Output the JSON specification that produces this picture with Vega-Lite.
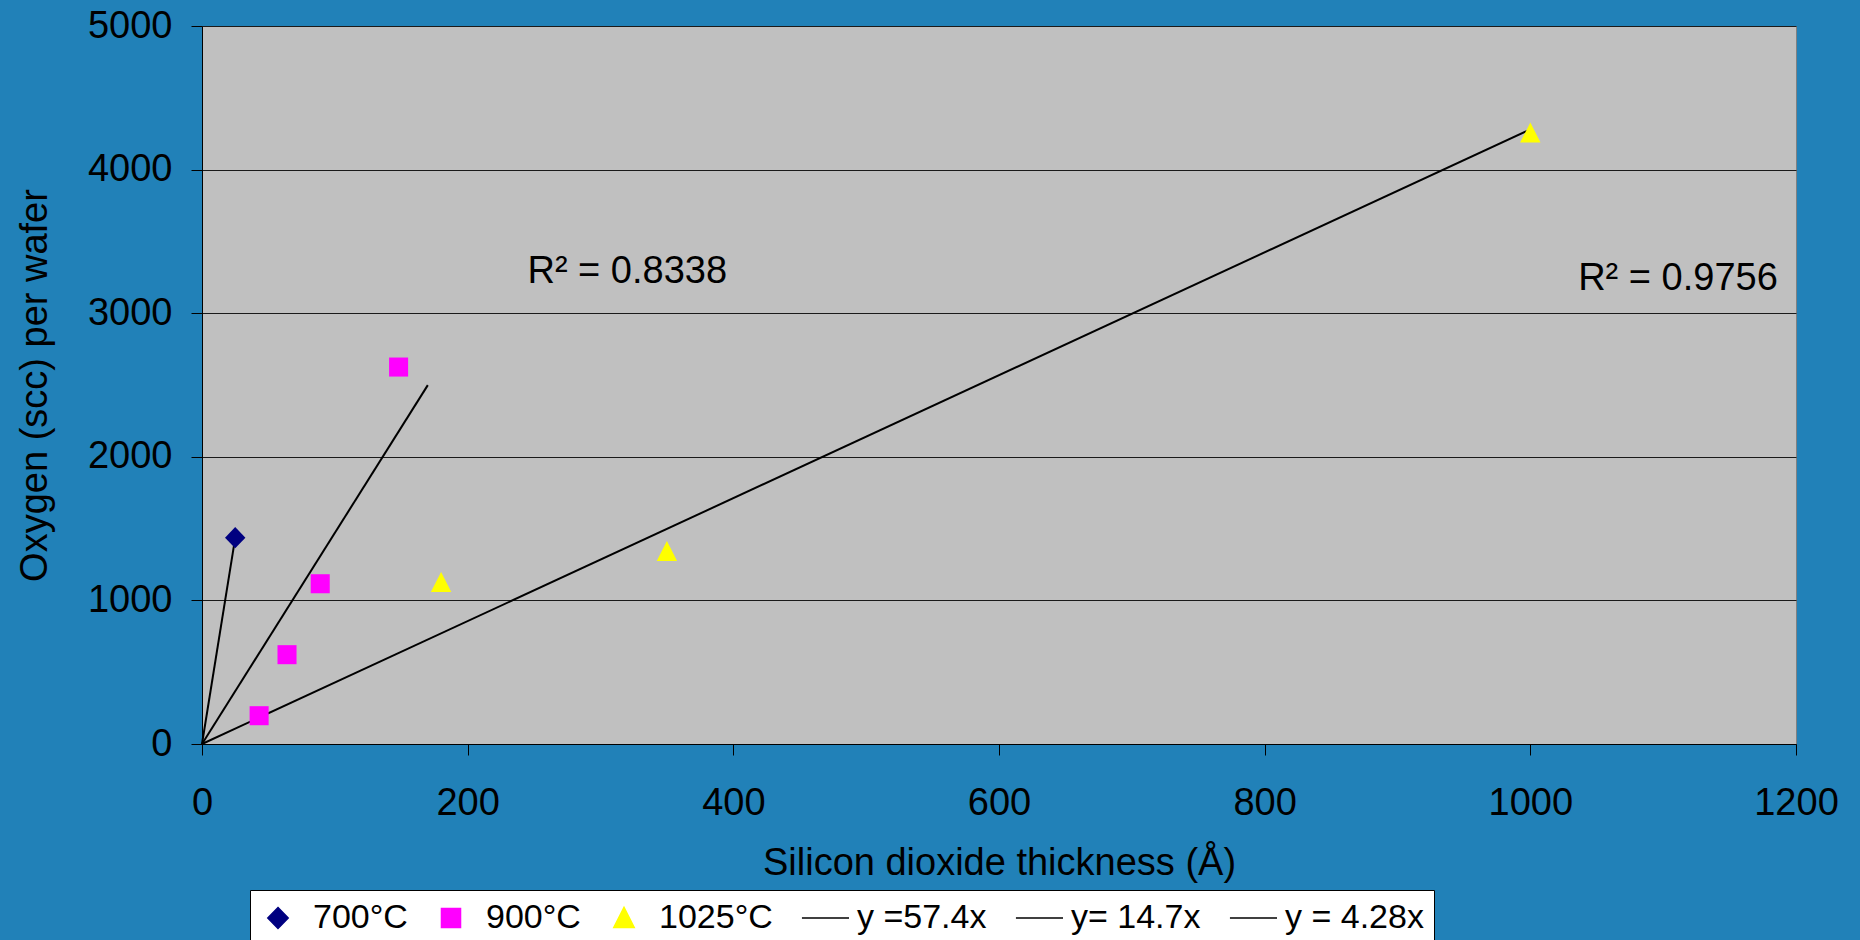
{
  "$schema": "https://vega.github.io/schema/vega-lite/v6.json",
  "width": 1594,
  "height": 718,
  "autosize": "none",
  "padding": {"left": 202, "top": 26, "right": 64, "bottom": 196},
  "background": "#2181B8",
  "config": {
    "font": "Liberation Sans",
    "view": {"fill": "#C0C0C0", "stroke": "#808080", "strokeWidth": 1},
    "axis": {
      "domainColor": "#000000",
      "tickColor": "#000000",
      "labelColor": "#000000",
      "titleColor": "#000000",
      "labelFontSize": 38,
      "titleFontSize": 38,
      "titleFontWeight": "normal",
      "labelFont": "Liberation Sans",
      "titleFont": "Liberation Sans",
      "tickSize": 11,
      "domainWidth": 1,
      "tickWidth": 1
    }
  },
  "layer": [
    {
      "data": {"values": [
        {"series": "y =57.4x", "x": 0, "y": 0},
        {"series": "y =57.4x", "x": 25, "y": 1435},
        {"series": "y= 14.7x", "x": 0, "y": 0},
        {"series": "y= 14.7x", "x": 170, "y": 2499},
        {"series": "y = 4.28x", "x": 0, "y": 0},
        {"series": "y = 4.28x", "x": 1000, "y": 4280}
      ]},
      "mark": {"type": "line", "strokeWidth": 2},
      "encoding": {
        "x": {"field": "x", "type": "quantitative"},
        "y": {"field": "y", "type": "quantitative"},
        "color": {"field": "series", "type": "nominal"},
        "detail": {"field": "series"}
      }
    },
    {
      "data": {"values": [
        {"series": "700°C", "x": 25, "y": 1437},
        {"series": "900°C", "x": 43, "y": 197},
        {"series": "900°C", "x": 64, "y": 622},
        {"series": "900°C", "x": 89, "y": 1116},
        {"series": "900°C", "x": 148, "y": 2625},
        {"series": "1025°C", "x": 180, "y": 1125},
        {"series": "1025°C", "x": 350, "y": 1340},
        {"series": "1025°C", "x": 1000, "y": 4255}
      ]},
      "mark": {"type": "point", "filled": true, "opacity": 1, "size": 1156, "strokeWidth": 0},
      "encoding": {
        "x": {
          "field": "x", "type": "quantitative",
          "title": "Silicon dioxide thickness (Å)",
          "scale": {"domain": [0, 1200], "nice": false, "zero": true},
          "axis": {"values": [0, 200, 400, 600, 800, 1000, 1200], "format": "d", "grid": false, "labelPadding": 29, "titlePadding": 22, "labelFlush": false}
        },
        "y": {
          "field": "y", "type": "quantitative",
          "title": "Oxygen (scc) per wafer",
          "scale": {"domain": [0, 5000], "nice": false},
          "axis": {"values": [0, 1000, 2000, 3000, 4000, 5000], "format": "d", "grid": true, "gridColor": "#1a1a1a", "gridWidth": 1, "labelPadding": 19, "titlePadding": 33}
        },
        "color": {
          "field": "series", "type": "nominal",
          "scale": {
            "domain": ["700°C", "900°C", "1025°C", "y =57.4x", "y= 14.7x", "y = 4.28x"],
            "range": ["#000080", "#FF00FF", "#FFFF00", "#000000", "#000000", "#000000"]
          },
          "legend": {
            "title": null,
            "orient": "none",
            "direction": "horizontal",
            "legendX": 48,
            "legendY": 864,
            "fillColor": "#FFFFFF",
            "strokeColor": "#000000",
            "padding": 10,
            "labelFontSize": 34,
            "labelFont": "Liberation Sans",
            "labelColor": "#000000",
            "labelOffset": 17,
            "columnPadding": 25,
            "symbolSize": 1156,
            "symbolOpacity": 1,
            "labelLimit": 400,
            "encode": {
              "symbols": {"update": {"stroke": {"scale": "color", "field": "value"}, "strokeWidth": {"value": 1.5}}}
            }
          }
        },
        "shape": {
          "field": "series", "type": "nominal",
          "scale": {
            "domain": ["700°C", "900°C", "1025°C", "y =57.4x", "y= 14.7x", "y = 4.28x"],
            "range": [
              "M0,-0.62L0.6,0L0,0.62L-0.6,0Z",
              "M-0.56,-0.56L0.56,-0.56L0.56,0.56L-0.56,0.56Z",
              "M0,-0.62L0.6,0.56L-0.6,0.56Z",
              "M-1.18,0L1.59,0",
              "M-1.18,0L1.59,0",
              "M-1.18,0L1.59,0"
            ]
          }
        }
      }
    },
    {
      "data": {"values": [
        {"x": 245, "y": 3210, "label": "R² = 0.8338"},
        {"x": 1036, "y": 3162, "label": "R² = 0.9756"}
      ]},
      "mark": {"type": "text", "align": "left", "baseline": "alphabetic", "fontSize": 38, "font": "Liberation Sans", "color": "#000000"},
      "encoding": {
        "x": {"field": "x", "type": "quantitative"},
        "y": {"field": "y", "type": "quantitative"},
        "text": {"field": "label"}
      }
    }
  ]
}
